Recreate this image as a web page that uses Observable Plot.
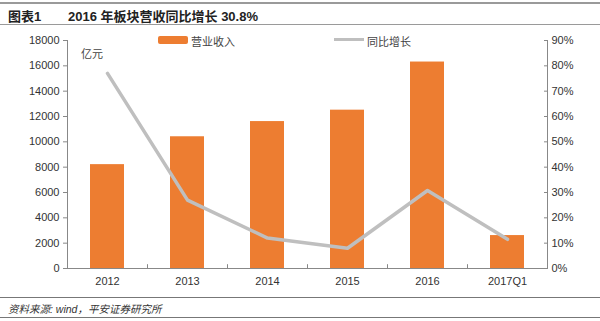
<!DOCTYPE html>
<html><head><meta charset="utf-8">
<script src="https://cdn.jsdelivr.net/npm/d3@7"></script>
<script src="https://cdn.jsdelivr.net/npm/@observablehq/plot@0.6"></script>
<style>
body{margin:0;background:#fff;font-family:"Liberation Sans",Arial,"Noto Sans CJK SC",sans-serif;}
#wrap{position:relative;width:600px;height:321px;overflow:hidden;}
.abs{position:absolute;white-space:nowrap;}
#chart{position:absolute;left:0;top:0;}
</style></head>
<body><div id="wrap">
<div class="abs" style="left:0;top:2px;width:600px;border-top:2px solid #9a9a9a"></div>
<div class="abs" style="left:8px;top:6px;font-size:13px;font-weight:bold;color:#222">图表1</div>
<div class="abs" style="left:68px;top:6px;font-size:13px;font-weight:bold;color:#222">2016 年板块营收同比增长 30.8%</div>
<div class="abs" style="left:0;top:24px;width:600px;border-top:1.5px solid #9a9a9a"></div>
<div id="chart"></div>
<div class="abs" style="left:158px;top:36px;width:30px;height:8px;background:#ED7D31;border-radius:2px"></div>
<div class="abs" style="left:191px;top:33px;font-size:11px;color:#444">营业收入</div>
<div class="abs" style="left:334px;top:38px;width:30px;height:3px;background:#BFBFBF"></div>
<div class="abs" style="left:367px;top:33px;font-size:11px;color:#444">同比增长</div>
<div class="abs" style="left:81px;top:45px;font-size:11px;color:#444">亿元</div>
<div class="abs" style="left:0;top:297px;width:600px;border-top:1px solid #777"></div>
<div class="abs" style="left:8px;top:301px;font-size:10.5px;font-style:italic;color:#333">资料来源: wind，平安证券研究所</div>
<div class="abs" style="left:0;top:317px;width:600px;border-top:1px solid #777"></div>
</div>
<script>
const categories = ["2012","2013","2014","2015","2016","2017Q1"];
const revenue = [8200, 10400, 11600, 12500, 16300, 2600];
const growth = [77, 27, 12, 8, 30.8, 11.5];
const leftTicks = [0,2000,4000,6000,8000,10000,12000,14000,16000,18000];
const rightTicks = [0,10,20,30,40,50,60,70,80,90];

const data = categories.map((c,i)=>({cat:c, revenue:revenue[i], growth:growth[i]}));
const k = 18000/90;

const plot = Plot.plot({
  width:600, height:321,
  marginTop:40, marginBottom:53, marginLeft:67, marginRight:53,
  style:{fontSize:"11px", color:"#333", fontFamily:"'Liberation Sans',Arial,sans-serif", background:"transparent"},
  x:{domain:categories, paddingInner:0.57, paddingOuter:0.285, label:null},
  y:{domain:[0,18000], label:null},
  marks:[
    Plot.barY(data,{x:"cat", y:"revenue", fill:"#ED7D31"}),
    Plot.lineY(data,{x:"cat", y:d=>d.growth*k, stroke:"#BFBFBF", strokeWidth:3.5}),
    Plot.axisY({ticks:leftTicks, tickSize:4, tickPadding:4, stroke:"#888", tickFormat:d=>String(d), fill:"#333", label:null}),
    Plot.axisY({anchor:"right", ticks:rightTicks.map(v=>v*k), tickSize:-4, tickPadding:8, stroke:"#888", tickFormat:d=>Math.round(d/k)+"%", fill:"#333", label:null}),
    Plot.axisX({tickSize:0, tickPadding:9, fill:"#333", label:null}),
    Plot.ruleX(categories.slice(1),{x:d=>d, dx:-40, y1:0, y2:300, stroke:"#888"}),
    Plot.ruleY([0],{stroke:"#888"}),
    Plot.frame({anchor:"left", stroke:"#888"}),
    Plot.frame({anchor:"right", stroke:"#888"})
  ]
});
document.getElementById("chart").appendChild(plot);
</script>
</body></html>
